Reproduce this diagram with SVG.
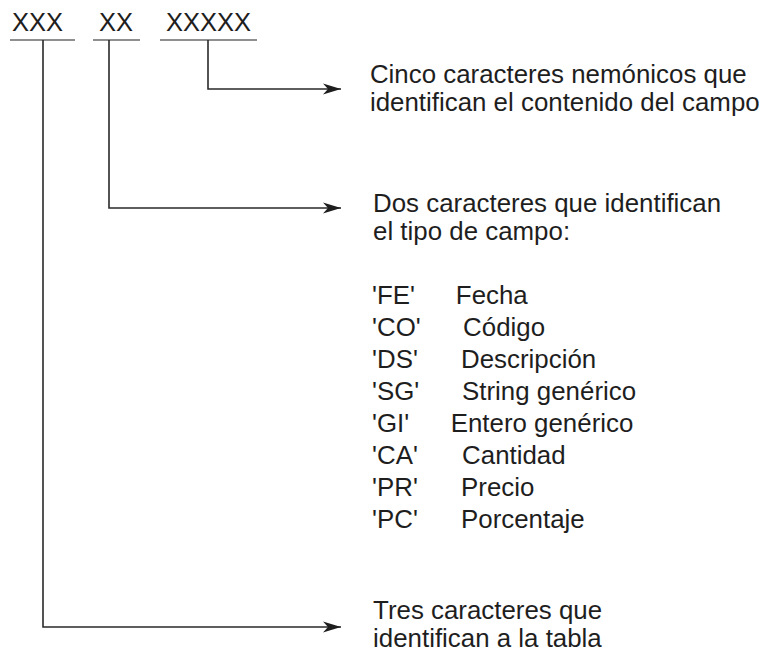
<svg xmlns="http://www.w3.org/2000/svg" width="770" height="657" viewBox="0 0 770 657">
<style>
  text { font-family: "Liberation Sans", Arial, sans-serif; fill: #1e1e1e; }
  .code { font-size: 25.5px; }
  .lbl { font-size: 25px; }
  .ul { stroke: #6a6a6a; stroke-width: 1.5; fill: none; }
  .conn { stroke: #2a2a2a; stroke-width: 1.6; fill: none; }
</style>
<defs>
  <marker id="arr" markerUnits="userSpaceOnUse" markerWidth="22" markerHeight="14" refX="20" refY="6" orient="auto">
    <path d="M20,6 L2,0.5 L7,6 L2,11.5 Z" fill="#1e1e1e"/>
  </marker>
</defs>
<rect width="770" height="657" fill="#ffffff"/>

<g id="code-xxx">
  <text class="code" x="12" y="31">XXX</text>
  <line class="ul" x1="10" y1="40" x2="75" y2="40"/>
</g>
<g id="code-xx">
  <text class="code" x="99" y="31">XX</text>
  <line class="ul" x1="93" y1="40" x2="140" y2="40"/>
</g>
<g id="code-xxxxx">
  <text class="code" x="166" y="31">XXXXX</text>
  <line class="ul" x1="160" y1="40" x2="257" y2="40"/>
</g>

<g id="connectors">
  <polyline class="conn" points="208,40 208,89 341,89" marker-end="url(#arr)"/>
  <polyline class="conn" points="109,40 109,208 341,208" marker-end="url(#arr)"/>
  <polyline class="conn" points="43,40 43,627 341,627" marker-end="url(#arr)"/>
</g>

<g id="desc-nemonicos" transform="matrix(1.035 0 0 1 -13 0)">
  <text class="lbl" x="370" y="83">Cinco caracteres nemónicos que</text>
  <text class="lbl" x="370" y="111">identifican el contenido del campo</text>
</g>

<g id="desc-tipo" transform="matrix(1.035 0 0 1 -13 0)">
  <text class="lbl" x="373" y="212">Dos caracteres que identifican</text>
  <text class="lbl" x="373" y="240">el tipo de campo:</text>
  <g id="tipos">
    <text class="lbl" x="372" y="304">'FE'</text><text class="lbl" x="453" y="304">Fecha</text>
    <text class="lbl" x="372" y="336">'CO'</text><text class="lbl" x="460" y="336">Código</text>
    <text class="lbl" x="372" y="368">'DS'</text><text class="lbl" x="458" y="368">Descripción</text>
    <text class="lbl" x="372" y="400">'SG'</text><text class="lbl" x="459" y="400">String genérico</text>
    <text class="lbl" x="372" y="432">'GI'</text><text class="lbl" x="448" y="432">Entero genérico</text>
    <text class="lbl" x="372" y="464">'CA'</text><text class="lbl" x="459" y="464">Cantidad</text>
    <text class="lbl" x="372" y="496">'PR'</text><text class="lbl" x="458" y="496">Precio</text>
    <text class="lbl" x="372" y="528">'PC'</text><text class="lbl" x="458" y="528">Porcentaje</text>
  </g>
</g>

<g id="desc-tabla" transform="matrix(1.035 0 0 1 -13 0)">
  <text class="lbl" x="373" y="619">Tres caracteres que</text>
  <text class="lbl" x="373" y="647">identifican a la tabla</text>
</g>
</svg>
